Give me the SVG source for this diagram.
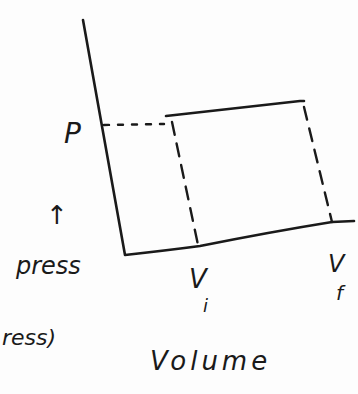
<svg xmlns="http://www.w3.org/2000/svg" width="358" height="394" viewBox="0 0 358 394">
<style>
.ln{fill:none;stroke:#1a1a1a;stroke-width:2.6;stroke-linecap:round;stroke-linejoin:round}
.ds{fill:none;stroke:#1a1a1a;stroke-width:2.4;stroke-linecap:round;stroke-dasharray:13 9}
.dt{fill:none;stroke:#1a1a1a;stroke-width:2.4;stroke-linecap:round;stroke-dasharray:5 9}
text{font-family:"DejaVu Sans","Liberation Sans",sans-serif;fill:#1a1a1a}
</style>
<rect width="358" height="394" fill="#fdfdfd"/>
<g id="axes">
<path class="ln" d="M83,20 L125,255 Q170,250 200,246 Q270,232 332,222 L354,221"/>
</g>
<g id="connectors">
<path class="ln" d="M166,116 L300,101 L304,101"/>
<path class="dt" d="M104,125 L164,124"/>
<path class="ds" d="M172,122 L198,245"/>
<path class="ds" d="M304,107 L332,222"/>
</g>
<g id="labels">
<text x="64" y="143" font-size="28" font-style="italic">P</text>
<text x="46" y="224" font-size="26">↑</text>
<text x="16" y="274" font-size="24" font-style="italic">press</text>
<text x="2" y="345" font-size="22" font-style="italic">ress)</text>
<text x="189" y="288" font-size="26" font-style="italic">V</text>
<text x="203" y="312" font-size="18" font-style="italic">i</text>
<text x="328" y="272" font-size="24" font-style="italic">V</text>
<text x="336" y="300" font-size="20" font-style="italic">f</text>
<text x="150" y="370" font-size="26" font-style="italic" letter-spacing="4">Volume</text>
</g>
</svg>
